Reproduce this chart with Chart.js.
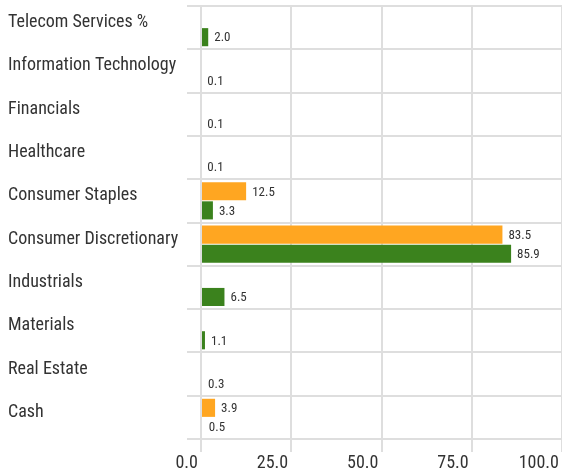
<!DOCTYPE html>
<html>
<head>
<meta charset="utf-8">
<script src="https://cdn.jsdelivr.net/npm/chart.js@4"></script>
<style>
  html, body { margin: 0; padding: 0; background: #fff; }
  #wrap { width: 562px; height: 473px; }
</style>
</head>
<body>
<div id="wrap"><canvas id="sectorChart"></canvas></div>
<script>
// data
const categories = ['Telecom Services %', 'Information Technology', 'Financials', 'Healthcare',
  'Consumer Staples', 'Consumer Discretionary', 'Industrials', 'Materials', 'Real Estate', 'Cash'];
const orangeValues = [null, null, null, null, 12.5, 83.5, null, null, null, 3.9];
const greenValues = [2.0, 0.1, 0.1, 0.1, 3.3, 85.9, 6.5, 1.1, 0.3, 0.5];
const xTicks = [0, 25, 50, 75, 100];

const FONT = "'Roboto Condensed', 'Liberation Sans Narrow', 'DejaVu Sans Condensed', Roboto, sans-serif";
const gridColor = '#dedede';

// bars under 1% don't show up in the original
const barColor = (color) => (ctx) => (ctx.raw !== null && ctx.raw < 1 ? 'rgba(0,0,0,0)' : color);

// value labels right of each bar (no datalabels plugin available offline)
const valueLabels = {
  id: 'valueLabels',
  afterDatasetsDraw(chart) {
    const ctx = chart.ctx;
    ctx.save();
    ctx.font = '13px ' + FONT;
    ctx.fillStyle = '#333';
    ctx.textAlign = 'left';
    ctx.textBaseline = 'middle';
    chart.data.datasets.forEach((ds, i) => {
      const meta = chart.getDatasetMeta(i);
      meta.data.forEach((bar, j) => {
        const v = ds.data[j];
        if (v === null || v === undefined) return;
        ctx.fillText(v.toFixed(1), bar.x + 6, bar.y + 1);
      });
    });
    ctx.restore();
  }
};

new Chart(document.getElementById('sectorChart'), {
  type: 'bar',
  data: {
    labels: categories,
    datasets: [
      { label: 'Fund', data: orangeValues, backgroundColor: barColor('#ffa621') },
      { label: 'Index', data: greenValues, backgroundColor: barColor('#3b821d') }
    ]
  },
  options: {
    indexAxis: 'y',
    responsive: true,
    maintainAspectRatio: false,
    animation: false,
    layout: { padding: { left: 8, top: 6, right: 0, bottom: 0 } },
    datasets: { bar: { categoryPercentage: 0.88, barPercentage: 0.95 } },
    plugins: { legend: { display: false }, tooltip: { enabled: false } },
    scales: {
      x: {
        min: 0,
        max: 100,
        afterBuildTicks: (scale) => { scale.ticks = xTicks.map(v => ({ value: v })); },
        afterFit: (scale) => { scale.height = 34; scale.paddingRight = 0; },
        border: { display: false },
        grid: { color: gridColor, lineWidth: 2, tickLength: 13 },
        ticks: {
          align: 'end',
          labelOffset: -3,
          padding: 1,
          color: '#333',
          font: { family: FONT, size: 18 },
          callback: (v) => Number(v).toFixed(1)
        }
      },
      y: {
        afterFit: (scale) => { scale.width = 193; scale.paddingTop = 0; scale.paddingBottom = 0; },
        border: { display: false },
        grid: { color: gridColor, lineWidth: 2, tickLength: 14, offset: true },
        ticks: {
          crossAlign: 'far',
          labelOffset: -5,
          color: '#333',
          font: { family: FONT, size: 18 }
        }
      }
    }
  },
  plugins: [valueLabels]
});
</script>
</body>
</html>
